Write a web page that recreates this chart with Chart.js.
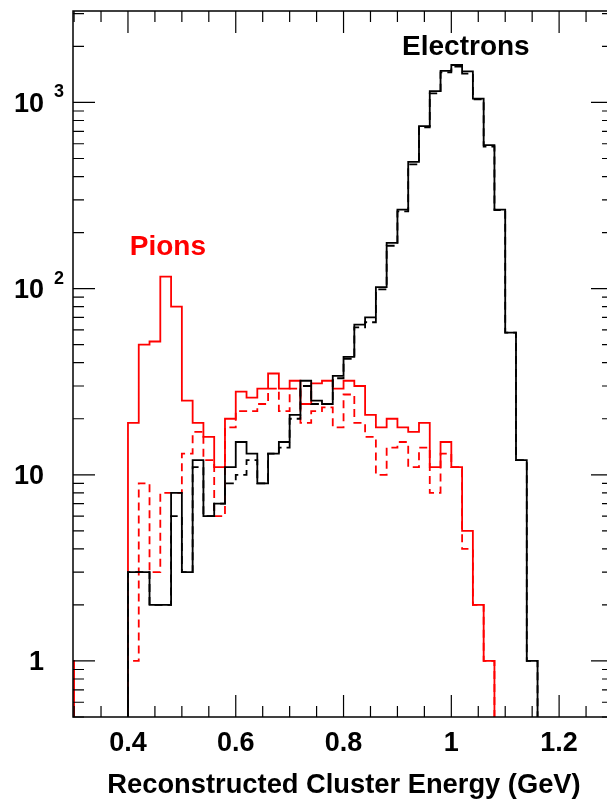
<!DOCTYPE html>
<html>
<head>
<meta charset="utf-8">
<script src="https://cdn.jsdelivr.net/npm/chart.js@4"></script>
<style>
    html, body { margin: 0; padding: 0; background: #fff; overflow: hidden; }
    #wrap { position: relative; width: 607px; height: 801px; overflow: hidden; }
    canvas { position: absolute; left: 0; top: 0; }
</style>
</head>
<body>
<div id="wrap"><canvas id="chart" width="620" height="801"></canvas></div>
<script>
// =====================================
// Data
// =====================================
// lower bin edges in GeV, last entry is the upper edge of the last bin
const binEdges = [0.28, 0.30, 0.32, 0.34, 0.36, 0.38, 0.40, 0.42, 0.44, 0.46,
    0.48, 0.50, 0.52, 0.54, 0.56, 0.58, 0.60, 0.62, 0.64, 0.66,
    0.68, 0.70, 0.72, 0.74, 0.76, 0.78, 0.80, 0.82, 0.84, 0.86,
    0.88, 0.90, 0.92, 0.94, 0.96, 0.98, 1.00, 1.02, 1.04, 1.06,
    1.08, 1.10, 1.12, 1.14, 1.16];

const electronsAll = [0, 0, 0, 0, 0, 0, 3, 3, 2, 2,
    8, 3, 12, 6, 7, 11, 15, 13, 9, 13,
    15, 21, 32, 25, 24, 34, 43, 64, 70, 102,
    176, 266, 480, 746, 1150, 1480, 1590, 1470, 1050, 590,
    266, 58, 12, 1];

const electronsCut = [0, 0, 0, 0, 0, 0, 3, 3, 2, 2,
    6, 3, 11, 6, 7, 9, 10, 12, 9, 13,
    14, 20, 30, 24, 24, 33, 42, 62, 66, 99,
    170, 260, 465, 735, 1120, 1450, 1560, 1430, 1040, 580,
    264, 58, 12, 1];

const pionsAll = [1, 0, 0, 0, 0, 0, 19, 50, 52, 116,
    80, 25, 19, 16, 11, 20, 28, 26, 29, 35,
    29, 32, 24, 31, 32, 29, 32, 30, 21, 18,
    20, 18, 17, 19, 11, 15, 11, 5, 2, 1,
    0, 0, 0, 0];

const pionsCut = [0, 0, 0, 0, 0, 0, 1, 9, 3, 8,
    8, 13, 17, 12, 6, 18, 22, 22, 24, 29,
    22, 29, 19, 22, 23, 18, 27, 19, 16, 10,
    14, 15, 11, 14, 8, 13, 11, 4, 2, 1,
    0, 0, 0, 0];

const xTickLabels = ["0.4", "0.6", "0.8", "1", "1.2"];
const xMajorTicks = [0.4, 0.6, 0.8, 1.0, 1.2];
const xMinorTicks = [0.30, 0.35, 0.40, 0.45, 0.50, 0.55, 0.60, 0.65, 0.70, 0.75, 0.80,
    0.85, 0.90, 0.95, 1.00, 1.05, 1.10, 1.15, 1.20, 1.25];
const yMajorTicks = [1, 10, 100, 1000];
const yMajorBase = ["1", "10", "10", "10"];
const yMajorExp = ["", "", "2", "3"];
const yMinorTicks = [0.5, 0.6, 0.7, 0.8, 0.9,
    2, 3, 4, 5, 6, 7, 8, 9,
    20, 30, 40, 50, 60, 70, 80, 90,
    200, 300, 400, 500, 600, 700, 800, 900,
    2000, 3000];

const xTitle = "Reconstructed Cluster Energy (GeV)";

// histogram labels, anchored in data coordinates
const labelText = ["Electrons", "Pions"];
const labelX = [1.027, 0.474];
const labelY = [1980, 167];
const labelColor = ["#000000", "#ff0000"];

// =====================================
// Helpers
// =====================================
const FLOOR = 0.05; // below the axis minimum, clipped away

function toSteps(values) {
    const pts = values.map((v, i) => ({ x: binEdges[i], y: v > 0 ? v : FLOOR }));
    pts.push({ x: binEdges[values.length], y: FLOOR });
    return pts;
}

function histDataset(values, color, dashed) {
    return {
        data: toSteps(values),
        borderColor: color,
        borderWidth: 1.8,
        borderDash: dashed ? [8, 5] : [],
        stepped: "before",
        pointRadius: 0,
        fill: false,
        tension: 0
    };
}

// =====================================
// Frame, ROOT-style inner ticks and labels
// =====================================
const framePlugin = {
    id: "rootFrame",
    afterDraw(chart) {
        const ctx = chart.ctx;
        const area = chart.chartArea;
        const xs = chart.scales.x;
        const ys = chart.scales.y;
        const FONT = "bold 27px 'Liberation Sans', Arial, sans-serif";

        ctx.save();
        ctx.strokeStyle = "#000";
        ctx.lineWidth = 1.5;
        ctx.strokeRect(area.left, area.top, area.right - area.left, area.bottom - area.top);

        ctx.lineWidth = 1.2;
        ctx.beginPath();
        // x ticks, bottom and top
        xMinorTicks.forEach(v => {
            const px = xs.getPixelForValue(v);
            const len = xMajorTicks.some(m => Math.abs(m - v) < 1e-6) ? 22 : 11;
            ctx.moveTo(px, area.bottom); ctx.lineTo(px, area.bottom - len);
            ctx.moveTo(px, area.top); ctx.lineTo(px, area.top + len);
        });
        // y ticks, left and right
        yMinorTicks.concat(yMajorTicks).forEach(v => {
            const py = ys.getPixelForValue(v);
            const len = yMajorTicks.includes(v) ? 22 : 11;
            ctx.moveTo(area.left, py); ctx.lineTo(area.left + len, py);
            ctx.moveTo(area.right, py); ctx.lineTo(area.right - len, py);
        });
        ctx.stroke();

        // x tick labels
        ctx.fillStyle = "#000";
        ctx.font = FONT;
        ctx.textAlign = "center";
        ctx.textBaseline = "middle";
        xMajorTicks.forEach((v, i) => {
            ctx.fillText(xTickLabels[i], xs.getPixelForValue(v), 744);
        });

        // y tick labels (10 with a raised exponent)
        yMajorTicks.forEach((v, i) => {
            const py = ys.getPixelForValue(v);
            ctx.font = FONT;
            ctx.textAlign = "right";
            ctx.textBaseline = "middle";
            ctx.fillText(yMajorBase[i], 44, py + 2);
            if (yMajorExp[i]) {
                ctx.font = "bold 18px 'Liberation Sans', Arial, sans-serif";
                ctx.textAlign = "left";
                ctx.fillText(yMajorExp[i], 54, py - 10);
            }
        });

        // axis title
        ctx.font = "bold 27.3px 'Liberation Sans', Arial, sans-serif";
        ctx.textAlign = "center";
        ctx.textBaseline = "middle";
        ctx.fillText(xTitle, 344, 785);

        // histogram labels
        ctx.font = "bold 28px 'Liberation Sans', Arial, sans-serif";
        ctx.textAlign = "center";
        labelText.forEach((t, i) => {
            ctx.fillStyle = labelColor[i];
            ctx.fillText(t, xs.getPixelForValue(labelX[i]), ys.getPixelForValue(labelY[i]));
        });
        ctx.restore();
    }
};

// =====================================
// Chart
// =====================================
const ctx = document.getElementById("chart").getContext("2d");
new Chart(ctx, {
    type: "line",
    data: {
        datasets: [
            histDataset(electronsAll, "#000000", false),
            histDataset(electronsCut, "#000000", true),
            histDataset(pionsAll, "#ff0000", false),
            histDataset(pionsCut, "#ff0000", true)
        ]
    },
    options: {
        responsive: false,
        animation: false,
        devicePixelRatio: 1,
        layout: { padding: { left: 73, right: 7, top: 11, bottom: 84 } },
        plugins: { legend: { display: false }, tooltip: { enabled: false } },
        scales: {
            x: { type: "linear", min: 0.298, max: 1.3, display: false },
            y: { type: "logarithmic", min: 0.5, max: 3100, display: false }
        }
    },
    plugins: [framePlugin]
});
</script>
</body>
</html>
